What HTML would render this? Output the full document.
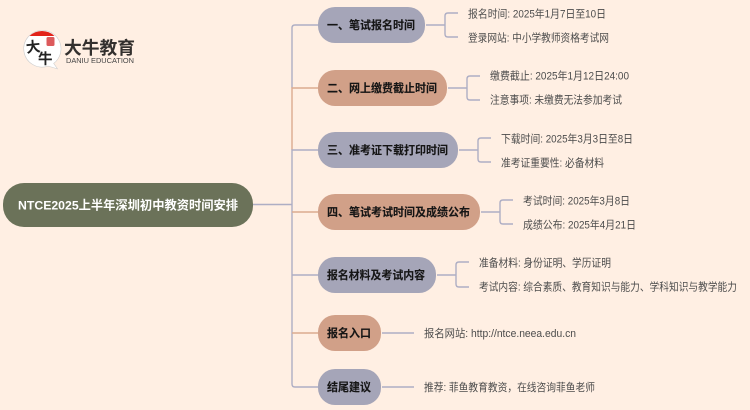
<!DOCTYPE html>
<html lang="zh"><head><meta charset="utf-8"><style>
html,body{margin:0;padding:0;background:#ffefe3;width:750px;height:410px;overflow:hidden}
svg{display:block}
text{font-family:"Liberation Sans","Noto Sans CJK SC",sans-serif}
.n{font-size:11.6px;font-weight:700;fill:#151515;stroke:#151515;stroke-width:.12}
.l{font-size:11px;fill:#4c4c4c}
.g{fill:none;stroke:#aeaec4;stroke-width:1.4}
.o{fill:none;stroke:#dcab90;stroke-width:1.4}
</style></head><body>
<svg width="750" height="410" viewBox="0 0 750 410" xmlns="http://www.w3.org/2000/svg">
<rect width="750" height="410" fill="#ffefe3"/>
<!-- logo -->
<path d="M42 30.5a18.3 18.3 0 1 0 6 35.6l9.5 2.8-3.8-5.5A18.3 18.3 0 0 0 42 30.5z" fill="#fff" stroke="#cfcfcf" stroke-width=".6"/>
<path d="M29.5 36a18 18 0 0 1 25 0z" fill="#e2231a"/>
<rect x="46.5" y="37" width="8" height="9" rx="1.5" fill="#dc5a5c"/>
<text x="26" y="52" font-size="14.5" font-weight="700" fill="#222" transform="rotate(-6 33 47)">大</text>
<text x="38" y="64" font-size="14.5" font-weight="700" fill="#222">牛</text>
<text x="64" y="54" font-size="17.8" font-weight="700" fill="#33302e" textLength="71" lengthAdjust="spacingAndGlyphs">大牛教育</text>
<text x="66" y="63" font-size="7" fill="#444" textLength="68" lengthAdjust="spacingAndGlyphs">DANIU EDUCATION</text>
<!-- trunk -->
<path class="g" d="M253 204.5H292M318 25H295Q292 25 292 28V88"/>
<path class="o" d="M318 88H292V150"/>
<path class="g" d="M318 150H292V384Q292 387 295 387H318"/>
<path class="o" d="M292 212H318M292 333H318"/>
<path class="g" d="M292 275H318"/>
<!-- branches -->
<path class="g" d="M426 25H445M458 13H448Q445 13 445 16V34Q445 37 448 37H458"/>
<path class="g" d="M448 88H467M480 76H470Q467 76 467 79V97Q467 100 470 100H480"/>
<path class="g" d="M459 150H478M491 138H481Q478 138 478 141V159Q478 162 481 162H491"/>
<path class="g" d="M481 212H500M513 200H503Q500 200 500 203V221Q500 224 503 224H513"/>
<path class="g" d="M437 275H456M469 262H459Q456 262 456 265V284Q456 287 459 287H469"/>
<path class="g" d="M382 333H414M382 387H414"/>
<!-- root -->
<rect x="3" y="183" width="250" height="44" rx="21" fill="#6b7259"/>
<text x="18" y="209.5" font-size="12.4" font-weight="700" fill="#fff" textLength="220" lengthAdjust="spacingAndGlyphs">NTCE2025上半年深圳初中教资时间安排</text>
<!-- nodes -->
<rect x="318" y="7" width="107" height="36" rx="17" fill="#a5a5b8"/>
<rect x="318" y="70" width="129" height="36" rx="17" fill="#d1a088"/>
<rect x="318" y="132" width="140" height="36" rx="17" fill="#a5a5b8"/>
<rect x="318" y="194" width="162" height="36" rx="17" fill="#d1a088"/>
<rect x="318" y="257" width="118" height="36" rx="17" fill="#a5a5b8"/>
<rect x="318" y="315" width="63" height="36" rx="17" fill="#d1a088"/>
<rect x="318" y="369" width="63" height="36" rx="17" fill="#a5a5b8"/>
<text class="n" x="327" y="29.2" textLength="88" lengthAdjust="spacingAndGlyphs">一、笔试报名时间</text>
<text class="n" x="327" y="92.2" textLength="110" lengthAdjust="spacingAndGlyphs">二、网上缴费截止时间</text>
<text class="n" x="327" y="154.2" textLength="121" lengthAdjust="spacingAndGlyphs">三、准考证下载打印时间</text>
<text class="n" x="327" y="216.2" textLength="143" lengthAdjust="spacingAndGlyphs">四、笔试考试时间及成绩公布</text>
<text class="n" x="327" y="279.2" textLength="98" lengthAdjust="spacingAndGlyphs">报名材料及考试内容</text>
<text class="n" x="327" y="337.2" textLength="44" lengthAdjust="spacingAndGlyphs">报名入口</text>
<text class="n" x="327" y="391.2" textLength="44" lengthAdjust="spacingAndGlyphs">结尾建议</text>
<!-- leaves -->
<text class="l" x="468" y="17.5" textLength="138" lengthAdjust="spacingAndGlyphs">报名时间: 2025年1月7日至10日</text>
<text class="l" x="468" y="41.5" textLength="141" lengthAdjust="spacingAndGlyphs">登录网站: 中小学教师资格考试网</text>
<text class="l" x="490" y="79.5" textLength="139" lengthAdjust="spacingAndGlyphs">缴费截止: 2025年1月12日24:00</text>
<text class="l" x="490" y="103.5" textLength="132" lengthAdjust="spacingAndGlyphs">注意事项: 未缴费无法参加考试</text>
<text class="l" x="501" y="142.5" textLength="132" lengthAdjust="spacingAndGlyphs">下载时间: 2025年3月3日至8日</text>
<text class="l" x="501" y="166.5" textLength="103" lengthAdjust="spacingAndGlyphs">准考证重要性: 必备材料</text>
<text class="l" x="523" y="204.5" textLength="107" lengthAdjust="spacingAndGlyphs">考试时间: 2025年3月8日</text>
<text class="l" x="523" y="228.5" textLength="113" lengthAdjust="spacingAndGlyphs">成绩公布: 2025年4月21日</text>
<text class="l" x="479" y="266.5" textLength="132" lengthAdjust="spacingAndGlyphs">准备材料: 身份证明、学历证明</text>
<text class="l" x="479" y="290.5" textLength="258" lengthAdjust="spacingAndGlyphs">考试内容: 综合素质、教育知识与能力、学科知识与教学能力</text>
<text class="l" x="424" y="337" textLength="152" lengthAdjust="spacingAndGlyphs">报名网站: http://ntce.neea.edu.cn</text>
<text class="l" x="424" y="391" textLength="171" lengthAdjust="spacingAndGlyphs">推荐: 菲鱼教育教资，在线咨询菲鱼老师</text>
</svg>
</body></html>
